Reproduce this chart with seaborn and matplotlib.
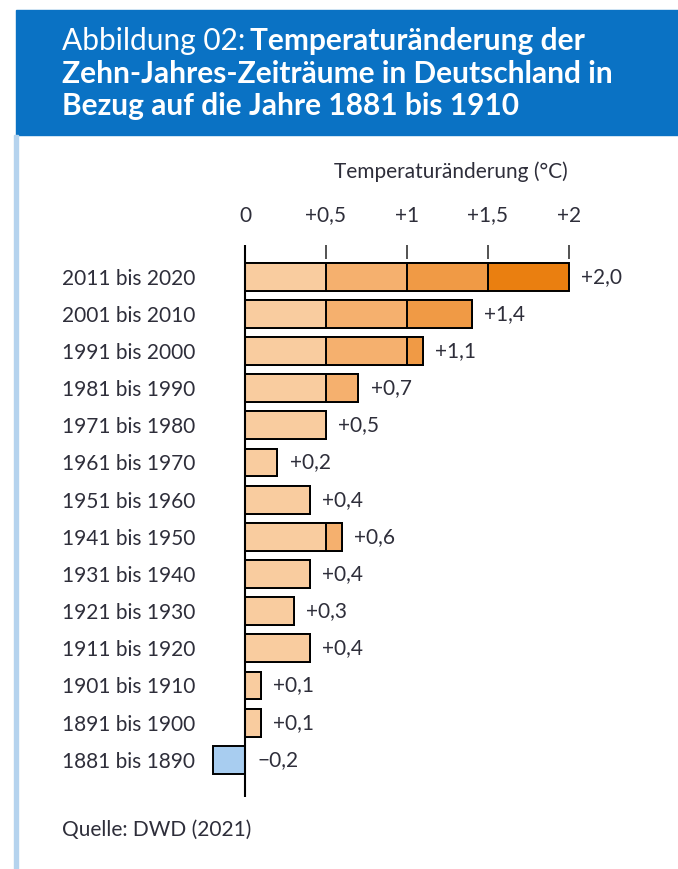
import pandas as pd
import seaborn as sns
import matplotlib.pyplot as plt
from matplotlib.patches import Rectangle

# Data: decade periods and temperature change vs. 1881-1910 (deg C)
periods = ["2011 bis 2020", "2001 bis 2010", "1991 bis 2000", "1981 bis 1990",
           "1971 bis 1980", "1961 bis 1970", "1951 bis 1960", "1941 bis 1950",
           "1931 bis 1940", "1921 bis 1930", "1911 bis 1920", "1901 bis 1910",
           "1891 bis 1900", "1881 bis 1890"]
changes = [2.0, 1.4, 1.1, 0.7, 0.5, 0.2, 0.4, 0.6, 0.4, 0.3, 0.4, 0.1, 0.1, -0.2]
tick_values = [0, 0.5, 1, 1.5, 2]
tick_labels = ["0", "+0,5", "+1", "+1,5", "+2"]

# colour steps for the 0.5-degree segments, lightest first
step_limits = [0.5, 1.0, 1.5, 2.0]
step_colors = ["#f9cc9f", "#f5b06e", "#f09a45", "#ea7f10"]
neg_color = "#a8cdf0"

header_blue = "#0a72c4"
text_col = "#2e2e3a"

df = pd.DataFrame({"period": periods, "change": changes})

sns.set_theme(style="white")
plt.rcParams["font.family"] = ["Lato", "DejaVu Sans"]

fig = plt.figure(figsize=(6.78, 8.69), dpi=100)

# header box and left border line
fig.patches.append(Rectangle((16 / 678, 1 - 135 / 869), 662 / 678, 125 / 869,
                             transform=fig.transFigure, color=header_blue, zorder=0))
fig.patches.append(Rectangle((14 / 678, 0), 4 / 678, 1 - 135 / 869,
                             transform=fig.transFigure, color="#b5d3ee", zorder=0))

# title: first part regular, rest bold
title_fs = 21.5
t1 = fig.text(62 / 678, 1 - 41 / 869, "Abbildung 02: ", color="white", fontsize=title_fs,
              va="center", ha="left")
fig.canvas.draw()
bb = t1.get_window_extent(renderer=fig.canvas.get_renderer())
fig.text(bb.x1 / 678 - 0.004, 1 - 41 / 869, "Temperaturänderung der", color="white",
         fontsize=title_fs, fontweight="bold", va="center", ha="left")
fig.text(62 / 678, 1 - 74 / 869, "Zehn-Jahres-Zeiträume in Deutschland in", color="white",
         fontsize=title_fs, fontweight="bold", va="center", ha="left")
fig.text(62 / 678, 1 - 106 / 869, "Bezug auf die Jahre 1881 bis 1910", color="white",
         fontsize=title_fs, fontweight="bold", va="center", ha="left")

# plot area: x=0 at 245px, 162px per degree
ax = fig.add_axes([196.4 / 678, 72 / 869, 469.8 / 678, 552 / 869])

# layered bars, longest/darkest first, each clipped at a step limit
pos = df["change"].clip(lower=0)
for lim, col in zip(step_limits[::-1], step_colors[::-1]):
    sns.barplot(x=pos.clip(upper=lim), y=df["period"], orient="h", color=col,
                edgecolor="black", linewidth=1.4, width=0.75, saturation=1, ax=ax)
sns.barplot(x=df["change"].clip(upper=0), y=df["period"], orient="h", color=neg_color,
            edgecolor="black", linewidth=1.4, width=0.75, saturation=1, ax=ax)

# hide zero-length bars' edges
for p in ax.patches:
    if abs(p.get_width()) < 1e-9:
        p.set_visible(False)

ax.axvline(0, color="black", lw=1.5, zorder=5)

lab_fs = 15
for i, v in enumerate(changes):
    lbl = ("+" if v > 0 else "\u2212") + f"{abs(v):.1f}".replace(".", ",")
    ax.text(max(v, 0) + 0.075, i, lbl, va="center", ha="left", fontsize=lab_fs, color=text_col)

ax.set_xlim(-0.3, 2.6)
ax.set_ylim(14.0, -0.85)
ax.xaxis.tick_top()
ax.set_xticks(tick_values)
ax.set_xticklabels(tick_labels)
ax.tick_params(axis="x", direction="in", length=10, width=1.3, color="#444444",
               pad=14, labelsize=lab_fs, labelcolor=text_col)
ax.tick_params(axis="y", length=0, pad=(196.4 - 62) * 0.72, labelsize=lab_fs,
               labelcolor=text_col)
ax.set_ylabel("")
ax.set_xlabel("Temperaturänderung (°C)", fontsize=lab_fs, color=text_col, labelpad=20)
ax.xaxis.set_label_position("top")
ax.xaxis.label.set_x((451 - 196.4) / 469.8)
for s in ax.spines.values():
    s.set_visible(False)
for lab in ax.get_yticklabels():
    lab.set_horizontalalignment("left")

fig.text(62 / 678, 1 - 830 / 869, "Quelle: DWD (2021)", fontsize=lab_fs, color=text_col,
         va="center", ha="left")

fig.savefig("out.png", dpi=100)
